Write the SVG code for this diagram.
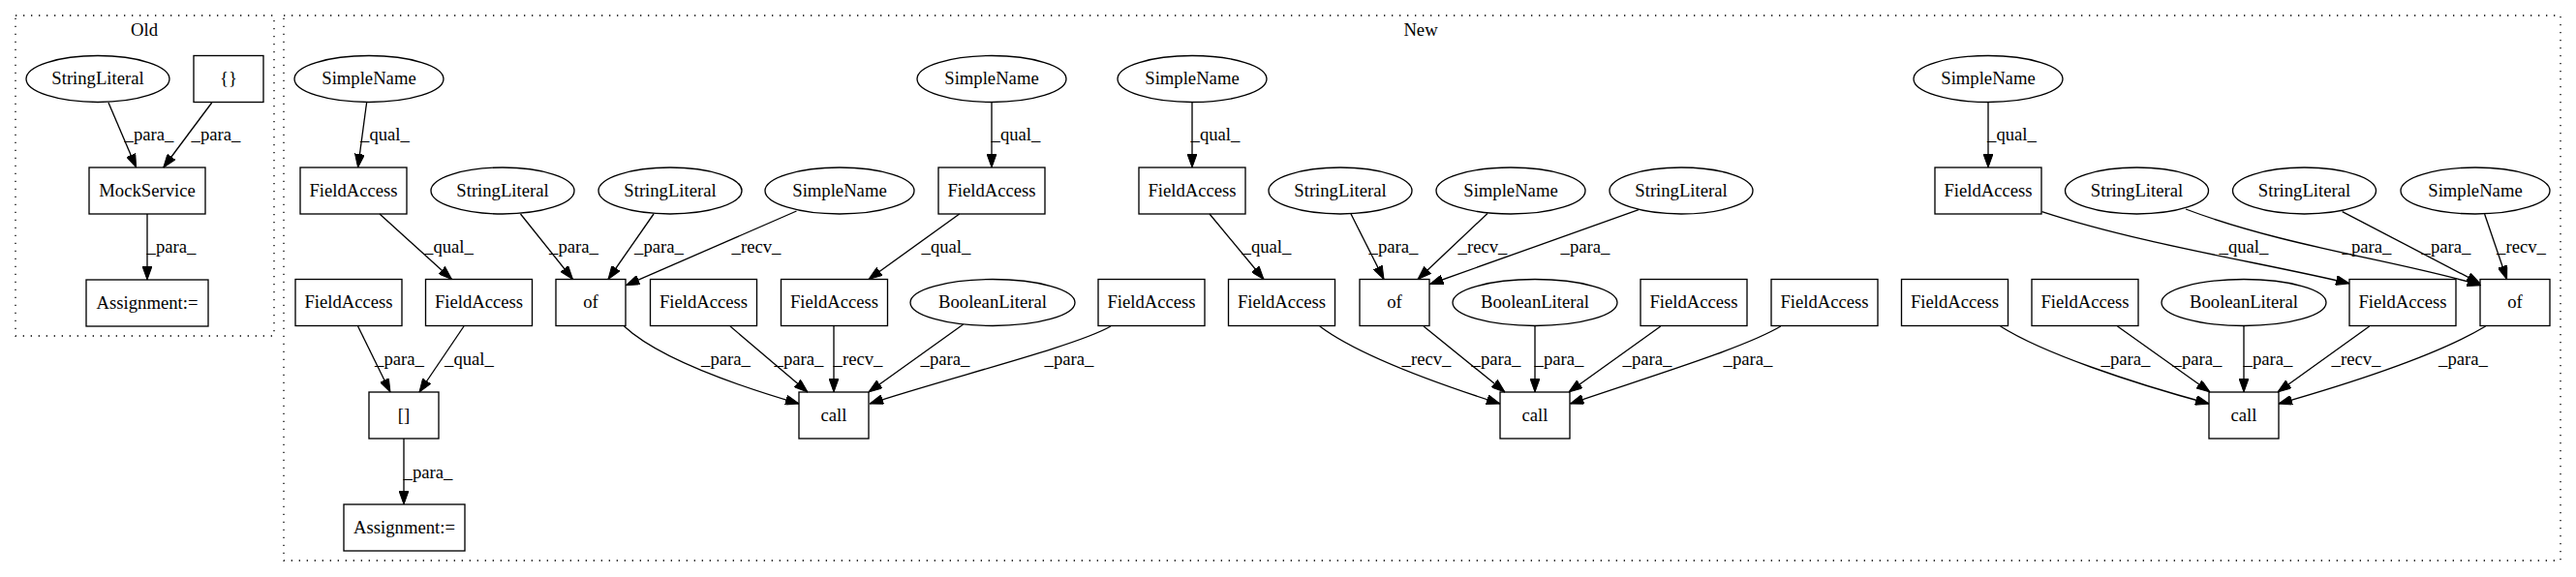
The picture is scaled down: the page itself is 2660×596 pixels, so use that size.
<svg xmlns="http://www.w3.org/2000/svg" width="2660" height="596" viewBox="0 0 2660 596" font-family="'Liberation Serif', 'Times New Roman', Times, serif">
<style>
text{font-family:'Liberation Serif','Times New Roman',Times,serif;font-size:18.67px;text-anchor:middle;fill:#000}
.n rect,.n ellipse{fill:none;stroke:#000;stroke-width:1.33}
.cl{fill:none;stroke:#000;stroke-width:1.33;stroke-dasharray:1.33,6.67}
.e path{fill:none;stroke:#000;stroke-width:1.33;marker-end:url(#arr)}
</style>
<defs>
<marker id="arr" viewBox="0 0 14 10" refX="14" refY="5" markerWidth="14" markerHeight="10" orient="auto" markerUnits="userSpaceOnUse"><path d="M0,0 L14,5 L0,10 z" fill="#000" stroke="#000" stroke-width="1"/></marker>
</defs>
<rect x="0" y="0" width="2660" height="596" fill="#fff"/>
<g id="cluster_old"><rect class="cl" x="16" y="16" width="267" height="331"/><text x="149" y="37">Old</text></g>
<g id="cluster_new"><rect class="cl" x="293" y="16" width="2351" height="563"/><text x="1467" y="37">New</text></g>

<g id="old_sl" class="n"><ellipse cx="101" cy="81.5" rx="74" ry="24"/><text x="101" y="87">StringLiteral</text></g>
<g id="old_brace" class="n"><rect x="200" y="57.5" width="72" height="48"/><text x="236" y="87">{}</text></g>
<g id="old_mock" class="n"><rect x="92" y="173" width="120" height="48"/><text x="152" y="203">MockService</text></g>
<g id="old_assign" class="n"><rect x="89" y="289" width="126" height="48"/><text x="152" y="319">Assignment:=</text></g>

<g id="sn1" class="n"><ellipse cx="381" cy="81.5" rx="77" ry="24"/><text x="381" y="87">SimpleName</text></g>
<g id="fa1" class="n"><rect x="310" y="173" width="110" height="48"/><text x="365" y="203">FieldAccess</text></g>
<g id="sl1" class="n"><ellipse cx="519" cy="197" rx="74" ry="24"/><text x="519" y="203">StringLiteral</text></g>
<g id="sl2" class="n"><ellipse cx="692" cy="197" rx="74" ry="24"/><text x="692" y="203">StringLiteral</text></g>
<g id="sn2" class="n"><ellipse cx="867" cy="197" rx="77" ry="24"/><text x="867" y="203">SimpleName</text></g>
<g id="sn3" class="n"><ellipse cx="1024" cy="81.5" rx="77" ry="24"/><text x="1024" y="87">SimpleName</text></g>
<g id="fa2" class="n"><rect x="969" y="173" width="110" height="48"/><text x="1024" y="203">FieldAccess</text></g>
<g id="fa3" class="n"><rect x="305" y="288.5" width="110" height="48"/><text x="360" y="318">FieldAccess</text></g>
<g id="fa4" class="n"><rect x="439.5" y="288.5" width="110" height="48"/><text x="494.5" y="318">FieldAccess</text></g>
<g id="of1" class="n"><rect x="574" y="288.5" width="72" height="48"/><text x="610" y="318">of</text></g>
<g id="fa5" class="n"><rect x="671.5" y="288.5" width="110" height="48"/><text x="726.5" y="318">FieldAccess</text></g>
<g id="fa6" class="n"><rect x="806.5" y="288.5" width="110" height="48"/><text x="861.5" y="318">FieldAccess</text></g>
<g id="bl1" class="n"><ellipse cx="1025" cy="312.5" rx="85" ry="24"/><text x="1025" y="318">BooleanLiteral</text></g>
<g id="fa7" class="n"><rect x="1134" y="288.5" width="110" height="48"/><text x="1189" y="318">FieldAccess</text></g>
<g id="idx" class="n"><rect x="381" y="405" width="72" height="48"/><text x="417" y="434.5">[]</text></g>
<g id="call1" class="n"><rect x="825" y="405" width="72" height="48"/><text x="861" y="434.5">call</text></g>
<g id="asg" class="n"><rect x="355" y="521" width="125" height="48"/><text x="417.5" y="550.5">Assignment:=</text></g>

<g id="sn4" class="n"><ellipse cx="1231" cy="81.5" rx="77" ry="24"/><text x="1231" y="87">SimpleName</text></g>
<g id="fa8" class="n"><rect x="1176" y="173" width="110" height="48"/><text x="1231" y="203">FieldAccess</text></g>
<g id="sl3" class="n"><ellipse cx="1384" cy="197" rx="74" ry="24"/><text x="1384" y="203">StringLiteral</text></g>
<g id="sn5" class="n"><ellipse cx="1560" cy="197" rx="77" ry="24"/><text x="1560" y="203">SimpleName</text></g>
<g id="sl4" class="n"><ellipse cx="1736" cy="197" rx="74" ry="24"/><text x="1736" y="203">StringLiteral</text></g>
<g id="fa10" class="n"><rect x="1268.5" y="288.5" width="110" height="48"/><text x="1323.5" y="318">FieldAccess</text></g>
<g id="of2" class="n"><rect x="1404" y="288.5" width="72" height="48"/><text x="1440" y="318">of</text></g>
<g id="bl2" class="n"><ellipse cx="1585" cy="312.5" rx="85" ry="24"/><text x="1585" y="318">BooleanLiteral</text></g>
<g id="fa11" class="n"><rect x="1694" y="288.5" width="110" height="48"/><text x="1749" y="318">FieldAccess</text></g>
<g id="fa12" class="n"><rect x="1829" y="288.5" width="110" height="48"/><text x="1884" y="318">FieldAccess</text></g>
<g id="call2" class="n"><rect x="1549" y="405" width="72" height="48"/><text x="1585" y="434.5">call</text></g>

<g id="sn6" class="n"><ellipse cx="2053" cy="81.5" rx="77" ry="24"/><text x="2053" y="87">SimpleName</text></g>
<g id="fa13" class="n"><rect x="1998" y="173" width="110" height="48"/><text x="2053" y="203">FieldAccess</text></g>
<g id="sl5" class="n"><ellipse cx="2206.5" cy="197" rx="74" ry="24"/><text x="2206.5" y="203">StringLiteral</text></g>
<g id="sl6" class="n"><ellipse cx="2379.5" cy="197" rx="74" ry="24"/><text x="2379.5" y="203">StringLiteral</text></g>
<g id="sn7" class="n"><ellipse cx="2556" cy="197" rx="77" ry="24"/><text x="2556" y="203">SimpleName</text></g>
<g id="fa14" class="n"><rect x="1963.5" y="288.5" width="110" height="48"/><text x="2018.5" y="318">FieldAccess</text></g>
<g id="fa15" class="n"><rect x="2098" y="288.5" width="110" height="48"/><text x="2153" y="318">FieldAccess</text></g>
<g id="bl3" class="n"><ellipse cx="2317" cy="312.5" rx="85" ry="24"/><text x="2317" y="318">BooleanLiteral</text></g>
<g id="fa16" class="n"><rect x="2426" y="288.5" width="110" height="48"/><text x="2481" y="318">FieldAccess</text></g>
<g id="of3" class="n"><rect x="2561" y="288.5" width="72" height="48"/><text x="2597" y="318">of</text></g>
<g id="call3" class="n"><rect x="2281" y="405" width="72" height="48"/><text x="2317" y="434.5">call</text></g>

<g id="connectors" class="e">
<path d="M112,106 L140.6,173"/><text x="154" y="145">_para_</text>
<path d="M218.75,106 L168.75,173"/><text x="223" y="145">_para_</text>
<path d="M152,221 L152,289"/><text x="177" y="261">_para_</text>
<path d="M378.6,106 L369.6,173"/><text x="397.5" y="145">_qual_</text>
<path d="M392,221 L466.5,288.5"/><text x="463.5" y="261">_qual_</text>
<path d="M369.6,337 L403,405"/><text x="412.5" y="377">_para_</text>
<path d="M479,337 L433,405"/><text x="484.5" y="377">_qual_</text>
<path d="M417,453 L417,521"/><text x="442" y="494">_para_</text>
<path d="M537.5,221 L591.5,288.5"/><text x="592.5" y="261">_para_</text>
<path d="M675,221 L628,288.5"/><text x="680.5" y="261">_para_</text>
<path d="M822.5,218 L646.5,294.7"/><text x="781" y="261">_recv_</text>
<path d="M1024,106 L1024,173"/><text x="1049" y="145">_qual_</text>
<path d="M990.7,221 L897,288.5"/><text x="977" y="261">_qual_</text>
<path d="M644.5,337 C680,370 760,398 825,417"/><text x="749.5" y="377">_para_</text>
<path d="M754,337 L834,405"/><text x="825" y="377">_para_</text>
<path d="M861,337 L861,405"/><text x="886" y="377">_recv_</text>
<path d="M994.7,335 L897,405"/><text x="976" y="377">_para_</text>
<path d="M1147,337 C1110,358 980,390 898,417"/><text x="1104" y="377">_para_</text>
<path d="M1231,106 L1231,173"/><text x="1255" y="145">_qual_</text>
<path d="M1249,221 L1305,288.5"/><text x="1308" y="261">_qual_</text>
<path d="M1395,221 L1429,288.5"/><text x="1439" y="261">_para_</text>
<path d="M1536,220.5 L1464,288.5"/><text x="1531" y="261">_recv_</text>
<path d="M1692,216.7 L1476.5,293.5"/><text x="1637" y="261">_para_</text>
<path d="M1362.8,337 C1400,365 1480,395 1549,417"/><text x="1473" y="377">_recv_</text>
<path d="M1470,337 L1554,405"/><text x="1545" y="377">_para_</text>
<path d="M1585,337 L1585,405"/><text x="1610" y="377">_para_</text>
<path d="M1714.8,337 L1620,405"/><text x="1701" y="377">_para_</text>
<path d="M1838.8,337 C1800,360 1700,390 1621.4,417"/><text x="1805" y="377">_para_</text>
<path d="M2053,106 L2053,173"/><text x="2077.5" y="145">_qual_</text>
<path d="M2108.5,218.6 C2210,252 2340,272 2426,292.8"/><text x="2317" y="261">_qual_</text>
<path d="M2257,216 C2360,255 2480,270 2561.5,294.7"/><text x="2444" y="261">_para_</text>
<path d="M2418.7,218.6 L2561,292.8"/><text x="2526" y="261">_para_</text>
<path d="M2565.6,221 L2588.6,288.5"/><text x="2603.5" y="261">_recv_</text>
<path d="M2065.6,337 C2110,365 2200,395 2281,417"/><text x="2195" y="377">_para_</text>
<path d="M2186.5,337 L2282,405"/><text x="2269" y="377">_para_</text>
<path d="M2317,337 L2317,405"/><text x="2342" y="377">_para_</text>
<path d="M2446.7,337 L2352,405"/><text x="2433" y="377">_recv_</text>
<path d="M2566.6,337 C2520,365 2430,395 2353,417"/><text x="2543.5" y="377">_para_</text>
</g>
</svg>
